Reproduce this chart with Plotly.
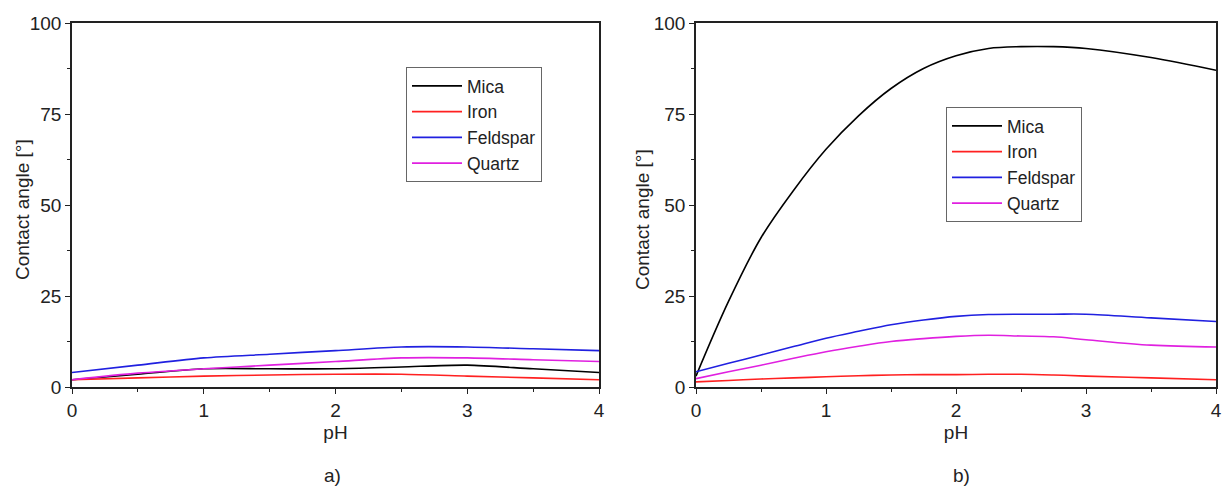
import plotly.graph_objects as go

# ---- data ----
series_names = ["Mica", "Iron", "Feldspar", "Quartz"]
colors = ["#000000", "#ff2020", "#2020e0", "#e020e0"]

ph_a = [0, 0.5, 1, 1.5, 2, 2.5, 3, 3.5, 4]
mica_a = [2.0, 3.5, 5.0, 5.0, 5.0, 5.5, 6.0, 5.0, 4.0]
iron_a = [2.0, 2.5, 3.0, 3.3, 3.5, 3.5, 3.0, 2.5, 2.0]
feldspar_a = [4.0, 6.0, 8.0, 9.0, 10.0, 11.0, 11.0, 10.5, 10.0]
quartz_a = [2.0, 3.8, 5.0, 6.0, 7.0, 8.0, 8.0, 7.5, 7.0]

ph_b = [0, 0.25, 0.5, 0.75, 1, 1.25, 1.5, 1.75, 2, 2.25, 2.5, 2.75, 3, 3.5, 4]
mica_b = [3, 23.5, 41, 54, 65.3, 74.5, 82, 87.5, 91, 93, 93.5, 93.5, 93, 90.5, 87]
iron_b = [1.4, 1.8, 2.2, 2.5, 2.8, 3.1, 3.3, 3.4, 3.4, 3.5, 3.5, 3.3, 3.0, 2.5, 2.0]
feldspar_b = [4.2, 6.5, 8.8, 11.1, 13.4, 15.3, 17.1, 18.4, 19.4, 19.9, 20, 20, 20, 19, 18]
quartz_b = [2.3, 4.2, 6, 7.9, 9.7, 11.2, 12.5, 13.3, 13.9, 14.2, 14, 13.8, 13, 11.5, 11]

x_ticks = [0, 1, 2, 3, 4]
y_ticks = [0, 25, 50, 75, 100]
y_title = "Contact angle [°]"
x_title = "pH"

fig = go.Figure()

data_a = [mica_a, iron_a, feldspar_a, quartz_a]
data_b = [mica_b, iron_b, feldspar_b, quartz_b]

for name, col, ys in zip(series_names, colors, data_a):
    fig.add_trace(go.Scatter(x=ph_a, y=ys, name=name, mode="lines",
                             line=dict(color=col, width=1.6, shape="spline", smoothing=0.8),
                             xaxis="x", yaxis="y", legend="legend"))
for name, col, ys in zip(series_names, colors, data_b):
    fig.add_trace(go.Scatter(x=ph_b, y=ys, name=name, mode="lines",
                             line=dict(color=col, width=1.6, shape="spline", smoothing=1.0),
                             xaxis="x2", yaxis="y2", legend="legend2"))

font_family = "Liberation Sans, Arial, sans-serif"
FS = 19

def xax(domain, anchor):
    return dict(domain=domain, anchor=anchor, range=[0, 4], tickvals=x_ticks,
                showline=True, mirror=True, linecolor="#222", linewidth=1.6,
                ticks="outside", ticklen=5, tickwidth=1.4, tickcolor="#222",
                minor=dict(ticks="outside", ticklen=3, tickwidth=1.2, tickcolor="#222", dtick=0.5),
                showgrid=False, zeroline=False, automargin=False,
                tickfont=dict(size=FS, color="#222"),
                title=dict(text=x_title, font=dict(size=FS, color="#222"), standoff=6))

def yax(domain, anchor):
    return dict(domain=domain, anchor=anchor, range=[0, 100], tickvals=y_ticks,
                showline=True, mirror=True, linecolor="#222", linewidth=1.6,
                ticks="outside", ticklen=5, tickwidth=1.4, tickcolor="#222",
                minor=dict(ticks="outside", ticklen=3, tickwidth=1.2, tickcolor="#222", dtick=12.5),
                showgrid=False, zeroline=False, automargin=False,
                tickfont=dict(size=FS, color="#222"))

ydom = [1 - 387 / 491, 1 - 23 / 491]
legend_common = dict(xanchor="left", yanchor="top",
                     bordercolor="#666", borderwidth=1, bgcolor="white",
                     font=dict(size=17.5, color="#222"), tracegroupgap=0,
                     itemwidth=50)
txt = dict(xref="paper", yref="paper", xanchor="center", yanchor="middle",
           showarrow=False, font=dict(size=FS, color="#222"))
fig.update_layout(
    width=1226, height=491,
    margin=dict(l=0, r=0, t=0, b=0, autoexpand=False),
    paper_bgcolor="white", plot_bgcolor="white",
    font=dict(family=font_family, color="#222"),
    xaxis=xax([72 / 1226, 599 / 1226], "y"),
    yaxis=yax(ydom, "x"),
    xaxis2=xax([696 / 1226, 1216 / 1226], "y2"),
    yaxis2=yax(ydom, "x2"),
    legend=dict(x=406 / 1226, y=1 - 67 / 491, **legend_common),
    legend2=dict(x=946 / 1226, y=1 - 107 / 491, **legend_common),
    showlegend=True,
    annotations=[
        dict(text=y_title, x=22 / 1226, y=1 - 210 / 491, textangle=-90, **txt),
        dict(text=y_title, x=642 / 1226, y=1 - 220 / 491, textangle=-90, **txt),
        dict(text="a)", x=332 / 1226, y=1 - 475 / 491, **txt),
        dict(text="b)", x=961 / 1226, y=1 - 475 / 491, **txt),
    ],
)

fig.write_html("out.html", config={"responsive": False, "displayModeBar": False},
               post_script="document.body.style.margin='0px';document.body.style.overflow='hidden';")
